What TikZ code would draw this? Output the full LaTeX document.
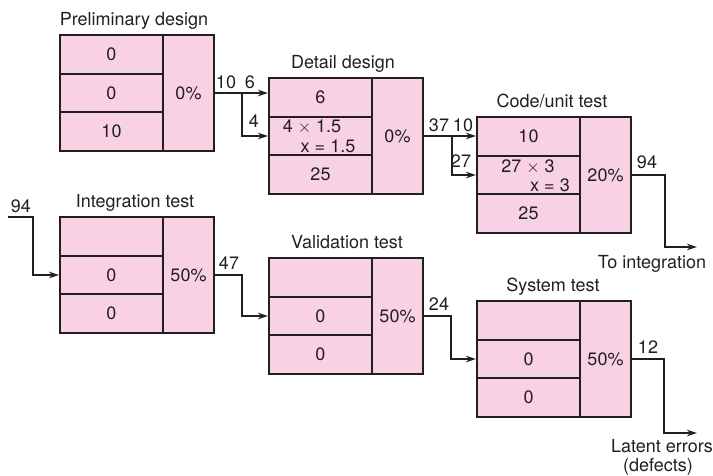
\documentclass[tikz,border=0pt]{standalone}
\usepackage{fontspec}
\setmainfont{TeX Gyre Heros}
\usetikzlibrary{arrows.meta,calc}
\definecolor{cellpink}{RGB}{248,210,228}
\definecolor{ink}{RGB}{35,31,32}
\newcommand\stagebox[9]{%
  \node[cellL] (#1-a) at ({#2+51.5},{#3+19.33}) {#5};
  \node[cellL] (#1-b) at ({#2+51.5},{#3+58}) {#6};
  \node[cellL] (#1-c) at ({#2+51.5},{#3+96.67}) {#7};
  \node[cellR] (#1-r) at ({#2+128.5},{#3+58}) {#8};
  \node[ttl] (#1-t) at ({#2+#9},{#3-9.5}) {#4};
}
\begin{document}
\begin{tikzpicture}[x=1pt,y=-1pt,
  txt/.style={font=\fontsize{18}{20}\selectfont,text=ink},
  cellL/.style={txt,draw=ink,fill=cellpink,line width=2.2pt,minimum width=103pt,minimum height=38.67pt,inner sep=0pt},
  cellR/.style={cellL,minimum width=51pt,minimum height=116pt},
  ttl/.style={txt,anchor=base,inner sep=0pt},
  lbl/.style={txt,anchor=base,inner sep=0pt},
  conn/.style={line width=2pt,draw=ink},
  arr/.style={conn,-{Stealth[length=10pt,width=6.5pt]}}]
\useasboundingbox (0,0) rectangle (713,475);

\stagebox{pd}{60}{35}{Preliminary design}{0}{0}{10}{0\%}{74}
\stagebox{dd}{269}{78}{Detail design}{6}{}{25}{0\%}{74}
\stagebox{cu}{477}{117}{Code/unit test}{10}{}{25}{20\%}{75}
\stagebox{it}{60}{217}{Integration test}{}{0}{0}{50\%}{75}
\stagebox{vt}{269}{258}{Validation test}{}{0}{0}{50\%}{78}
\stagebox{st}{477}{301}{System test}{}{0}{0}{50\%}{76}

\node[txt,inner sep=0pt] (ddb1) at ($(dd-b.center)+(-8.5,-9.5)$) {4 \(\times\) 1.5};
\node[txt,inner sep=0pt] (ddb2) at ($(dd-b.center)+(7.5,10.5)$) {x = 1.5};
\node[txt,inner sep=0pt] (cub1) at ($(cu-b.center)+(-0.5,-8.5)$) {27 \(\times\) 3};
\node[txt,inner sep=0pt] (cub2) at ($(cu-b.center)+(21.5,10.5)$) {x = 3};

% connectors
\coordinate (s1) at ($(pd-r.east)+(27,0)$);
\draw[arr] (pd-r.east) -- (dd-a.west |- pd-r.east);
\draw[arr] (s1) |- (dd-b.west);
\coordinate (s2) at ($(dd-r.east)+(28,0)$);
\draw[arr] (dd-r.east) -- (cu-a.west |- dd-r.east);
\draw[arr] (s2) |- (cu-b.west);
\coordinate (e1) at (697,247);
\draw[arr] (cu-r.east) -- ++(33,0) |- (e1);
\coordinate (i0) at (8,217);
\draw[arr] (i0) -- (33,217) |- (it-b.west);
\draw[arr] (it-r.east) -- ++(27,0) |- (vt-b.west);
\draw[arr] (vt-r.east) -- ++(27,0) |- (st-b.west);
\coordinate (e2) at (697,433);
\draw[arr] (st-r.east) -- ++(32,0) |- (e2);

% labels
\node[lbl] (l10a) at (226,88) {10};
\node[lbl] (l6) at (250,88) {6};
\node[lbl] (l4) at (254,127) {4};
\node[lbl] (l37) at (439,131) {37};
\node[lbl] (l10b) at (463,131) {10};
\node[lbl] (l27) at (461,167) {27};
\node[lbl] (l94a) at (647,168) {94};
\node[lbl] (l94b) at (21,212) {94};
\node[lbl] (l47) at (229,269) {47};
\node[lbl] (l24) at (439,310) {24};
\node[lbl] (l12) at (648,353) {12};
\node[lbl] (tointeg) at (652,268) {To integration};
\node[lbl] (latent) at (662,452) {Latent errors};
\node[lbl] (defects) at (658,471) {(defects)};
\end{tikzpicture}
\end{document}
